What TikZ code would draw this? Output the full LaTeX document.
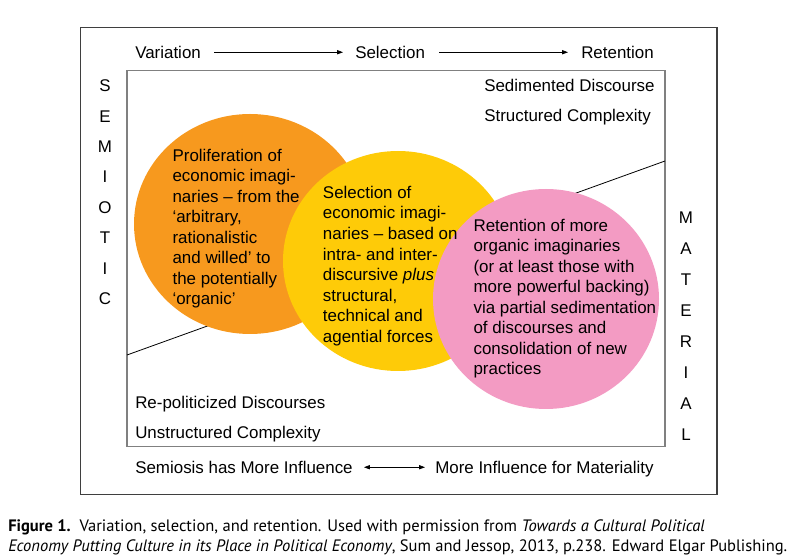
\documentclass[tikz,border=0pt]{standalone}
\usepackage{fontspec}
\setmainfont{Liberation Sans}
\newfontfamily\captionfont{PT Sans}
\usetikzlibrary{arrows.meta, positioning}
\definecolor{prolifOrange}{HTML}{F7991E}
\definecolor{selectYellow}{HTML}{FECB08}
\definecolor{retainPink}{HTML}{F39BC3}
\definecolor{frameGray}{HTML}{3F3F3F}
\definecolor{boxGray}{HTML}{808080}

\begin{document}
\begin{tikzpicture}[
  x=0.75pt, y=-0.75pt,
  label/.style={inner sep=0pt, font=\fontsize{12.7}{15.4}\selectfont},
  blurb/.style={label, align=left, anchor=north west},
  vword/.style={inner sep=0pt, align=center, anchor=north},
  arr/.style={-{Triangle[length=4.5pt, width=3.2pt]}, line width=0.6pt},
  dblarr/.style={{Triangle[length=4.5pt, width=3.2pt]}-{Triangle[length=4.5pt, width=3.2pt]}, line width=0.6pt}
]
  \useasboundingbox (0,0) rectangle (796,555);

  % Frames and the dividing line
  \draw[frameGray, line width=1pt] (80.5,27.3) rectangle (717,494.3);
  \draw[boxGray, line width=1pt] (127,70.7) rectangle (665,446.7);
  \draw[line width=0.6pt] (127,355) -- (665,161);

  % The three overlapping circles
  \fill[prolifOrange] (250,224) ellipse [x radius=116, y radius=110];
  \fill[selectYellow] (398,261) ellipse [x radius=115, y radius=110];
  \fill[retainPink] (546,299) ellipse [x radius=113, y radius=110];

  % Circle texts
  \node[blurb] (prolif) at (172.3,148.6) {Proliferation of\\economic imagi-\\naries -- from the\\‘arbitrary,\\rationalistic\\and willed’ to\\the potentially\\‘organic’};
  \node[blurb] (select) at (322.7,185.9) {Selection of\\economic imagi-\\naries -- based on\\intra- and inter-\\discursive \emph{plus}\\structural,\\technical and\\agential forces};
  \node[blurb] (retain) at (473.3,218.6) {Retention of more\\organic imaginaries\\(or at least those with\\more powerful backing)\\via partial sedimentation\\of discourses and\\consolidation of new\\practices};

  % Top row
  \node[label, anchor=base west] (var) at (135,58.3) {Variation};
  \node[label, anchor=base west] (sel) at (355,58.3) {Selection};
  \node[label, anchor=base west] (ret) at (581,58.3) {Retention};
  \draw[arr, shorten <=9.75pt, shorten >=9pt] (var.east) -- (sel.west);
  \draw[arr, shorten <=10.5pt, shorten >=9.75pt] (sel.east) -- (ret.west);

  % Corner labels
  \node[label, anchor=base west] (sed) at (484,91.8) {Sedimented Discourse};
  \node[label, anchor=base west] (struct) at (484,121.7) {Structured Complexity};
  \node[label, anchor=base west] (repol) at (135,408.3) {Re-politicized Discourses};
  \node[label, anchor=base west] (unstruct) at (135,439) {Unstructured Complexity};

  % Side words
  \node[vword, font=\fontsize{12.7}{22.8}\selectfont] (semiotic) at (105,79.6) {S\\E\\M\\I\\O\\T\\I\\C};
  \node[vword, font=\fontsize{12.7}{23.25}\selectfont] (material) at (686,211.6) {M\\A\\T\\E\\R\\I\\A\\L};

  % Bottom row
  \node[label, anchor=base west] (semi) at (135,473.3) {Semiosis has More Influence};
  \node[label, anchor=base west] (mat) at (435,473.3) {More Influence for Materiality};
  \draw[dblarr, shorten <=8.25pt, shorten >=7.5pt] (semi.east) -- (semi.east -| mat.west);

  % Caption
  \node[inner sep=0pt, anchor=north west, align=left,
        font=\captionfont\fontsize{12.4}{15}\selectfont] (caption) at (8,519)
    {\textbf{Figure 1.}\ \ Variation, selection, and retention. Used with permission from \emph{Towards a Cultural Political}\\
     \emph{Economy Putting Culture in its Place in Political Economy}, Sum and Jessop, 2013, p.238. Edward Elgar Publishing.};
\end{tikzpicture}
\end{document}
